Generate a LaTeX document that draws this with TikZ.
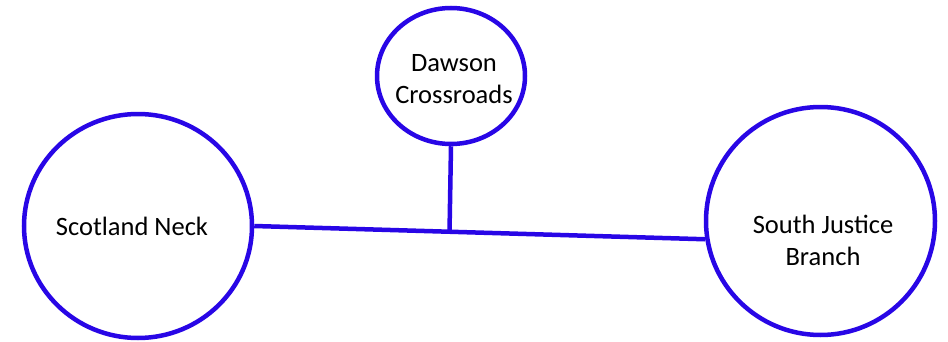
\documentclass[tikz,border=0pt]{standalone}
\usepackage{fontspec}
\setmainfont{Carlito}
\usetikzlibrary{shapes.geometric,calc}
\definecolor{edgeblue}{RGB}{40,6,230}
\begin{document}
\begin{tikzpicture}[x=1pt,y=1pt,
  town/.style={ellipse,draw=edgeblue,line width=4.5pt,inner sep=0pt,fill=white},
  road/.style={draw=edgeblue,line width=4.5pt},
  lbl/.style={font=\fontsize{26.5}{31.5}\selectfont,align=center,inner sep=0pt,text=black}]
\fill[white] (0,0) rectangle (948,341);
\useasboundingbox (0,0) rectangle (948,341);
\node[town,minimum width=228,minimum height=224] (sn) at (138,115) {};
\node[town,minimum width=148,minimum height=136] (dc) at (451,265) {};
\node[town,minimum width=229,minimum height=228] (sjb) at (820.5,120) {};
\coordinate (j) at ($(sn.0)!0.433!(sjb.189)$);
\draw[road] (sn.0) -- (sjb.189);
\draw[road] (dc.south) -- (j);
\node[lbl,anchor=base] (tsn) at (132,106) {Scotland Neck};
\node[lbl,anchor=base] (tdc) at (454,238) {Dawson\\Crossroads};
\node[lbl,anchor=base] (tsjb) at (823,76) {South Justice\\Branch};
\end{tikzpicture}
\end{document}
